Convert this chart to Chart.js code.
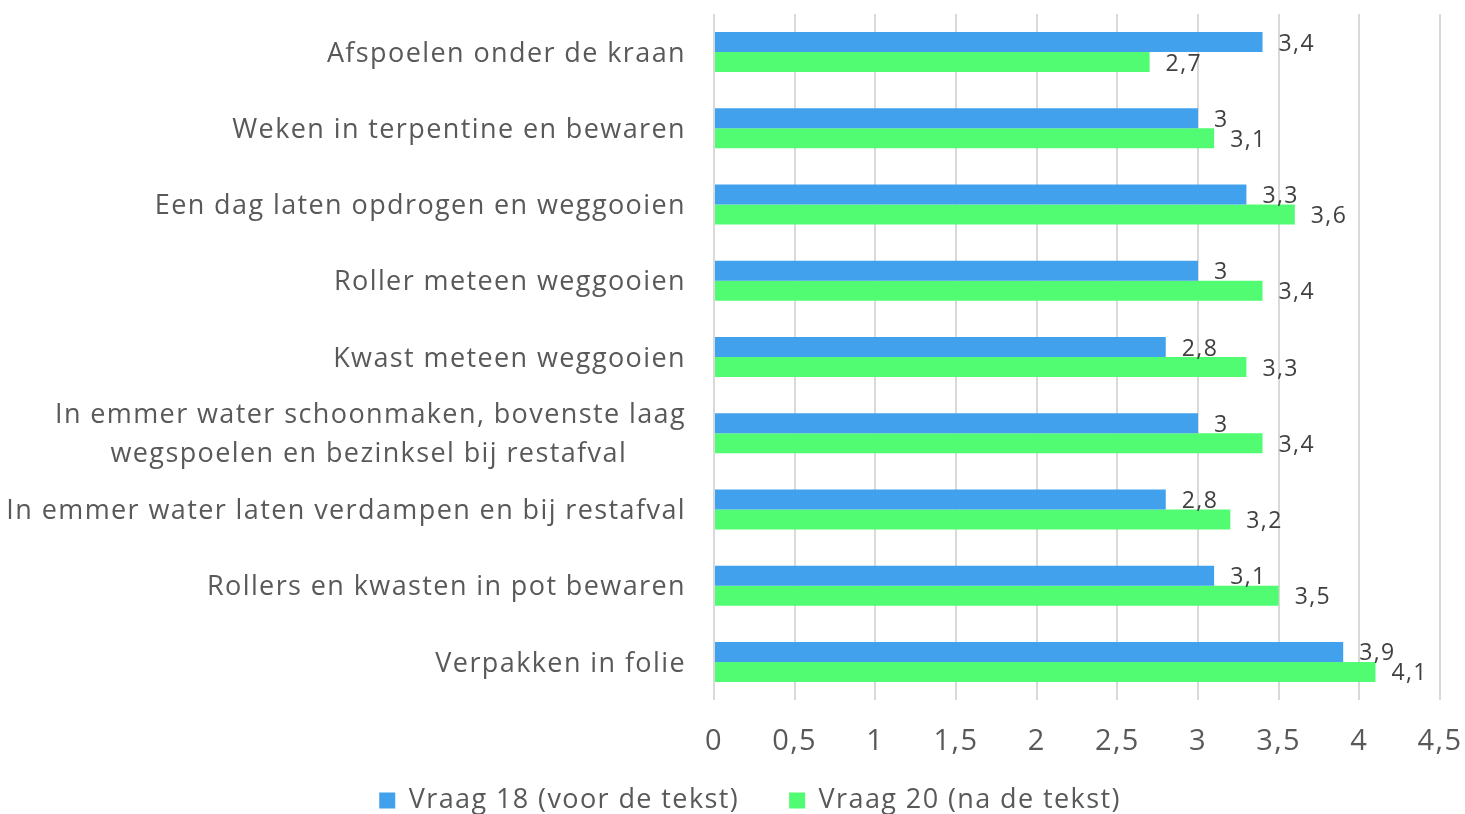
<!DOCTYPE html>
<html>
<head>
<meta charset="utf-8">
<script src="https://cdn.jsdelivr.net/npm/chart.js@4.4.1/dist/chart.umd.min.js"></script>
<style>
  html, body { margin: 0; padding: 0; background: #fff; overflow: hidden; }
  #wrap { position: relative; width: 1465px; height: 814px; overflow: hidden; }
  #box { position: absolute; left: 0; top: 0; width: 1465px; height: 824px; }
</style>
</head>
<body>
<div id="wrap"><div id="box"><canvas id="c"></canvas></div></div>
<script>
const categories = [
  "Afspoelen onder de kraan",
  "Weken in terpentine en bewaren",
  "Een dag laten opdrogen en weggooien",
  "Roller meteen weggooien",
  "Kwast meteen weggooien",
  ["In emmer water schoonmaken, bovenste laag", "wegspoelen en bezinksel bij restafval"],
  "In emmer water laten verdampen en bij restafval",
  "Rollers en kwasten in pot bewaren",
  "Verpakken in folie"
];
const seriesNames = ["Vraag 18 (voor de tekst)", "Vraag 20 (na de tekst)"];
const vraag18 = [3.4, 3.0, 3.3, 3.0, 2.8, 3.0, 2.8, 3.1, 3.9];
const vraag20 = [2.7, 3.1, 3.6, 3.4, 3.3, 3.4, 3.2, 3.5, 4.1];
const xTicks = [0, 0.5, 1, 1.5, 2, 2.5, 3, 3.5, 4, 4.5];

const FONT = "'Open Sans', sans-serif";
const SPACING = '1.4px';
const fmt = v => String(v).replace('.', ',');

// center second line of multi-line labels under the first (right-aligned axis)
const mctx = document.createElement('canvas').getContext('2d');
mctx.font = "27px " + FONT;
mctx.letterSpacing = SPACING;
const spaceW = mctx.measureText('\u00a0').width;
const labels = categories.map(c => {
  if (!Array.isArray(c)) return c;
  const w0 = mctx.measureText(c[0]).width;
  return c.map(line => {
    const w = mctx.measureText(line).width;
    const n = Math.max(0, Math.round((w0 - w) / 2 / spaceW));
    return line + '\u00a0'.repeat(n);
  });
});

const spacingPlugin = {
  id: 'spacing',
  beforeUpdate(chart) { chart.ctx.letterSpacing = SPACING; },
  beforeDraw(chart) { chart.ctx.letterSpacing = SPACING; }
};

const valueLabels = {
  id: 'valueLabels',
  afterDatasetsDraw(chart) {
    const ctx = chart.ctx;
    ctx.save();
    ctx.letterSpacing = SPACING;
    ctx.font = "23px " + FONT;
    ctx.fillStyle = '#404040';
    ctx.textAlign = 'left';
    ctx.textBaseline = 'middle';
    chart.data.datasets.forEach((ds, i) => {
      chart.getDatasetMeta(i).data.forEach((bar, j) => {
        ctx.fillText(fmt(ds.data[j]), bar.x + 16, bar.y + 2);
      });
    });
    ctx.restore();
  }
};

const noClip = () => undefined;

new Chart(document.getElementById('c'), {
  type: 'bar',
  data: {
    labels: labels,
    datasets: [
      { label: seriesNames[0], data: vraag18, backgroundColor: '#41A1EC', borderWidth: 0 },
      { label: seriesNames[1], data: vraag20, backgroundColor: '#52FC72', borderWidth: 0 }
    ]
  },
  options: {
    indexAxis: 'y',
    responsive: true,
    maintainAspectRatio: false,
    animation: false,
    categoryPercentage: 0.525,
    barPercentage: 1.0,
    layout: { padding: { top: 14, right: 25, left: 60, bottom: 0 } },
    scales: {
      x: {
        min: 0, max: 4.5,
        afterBuildTicks(scale) { scale.ticks = xTicks.map(v => ({ value: v })); },
        afterFit(scale) {
          scale.height = 37; scale.paddingLeft = 0; scale.paddingRight = 0;
          scale._computeLabelArea = noClip;
        },
        grid: { color: '#d9d9d9', lineWidth: 2, drawTicks: false },
        border: { display: false },
        ticks: {
          padding: 24,
          color: '#595959',
          font: { family: FONT, size: 29 },
          callback: v => fmt(v)
        }
      },
      y: {
        afterFit(scale) {
          scale.width = 654; scale.paddingTop = 0; scale.paddingBottom = 0;
          scale._computeLabelArea = noClip;
        },
        grid: { display: false, drawTicks: false },
        border: { display: false },
        ticks: {
          padding: 28,
          labelOffset: 2,
          color: '#595959',
          font: { family: FONT, size: 27, lineHeight: 1.45 },
          autoSkip: false
        }
      }
    },
    plugins: {
      legend: {
        position: 'bottom',
        labels: {
          color: '#595959',
          font: { family: FONT, size: 27 },
          boxWidth: 16, boxHeight: 16,
          padding: 50
        }
      },
      tooltip: { enabled: false }
    }
  },
  plugins: [spacingPlugin, valueLabels]
});
</script>
</body>
</html>
